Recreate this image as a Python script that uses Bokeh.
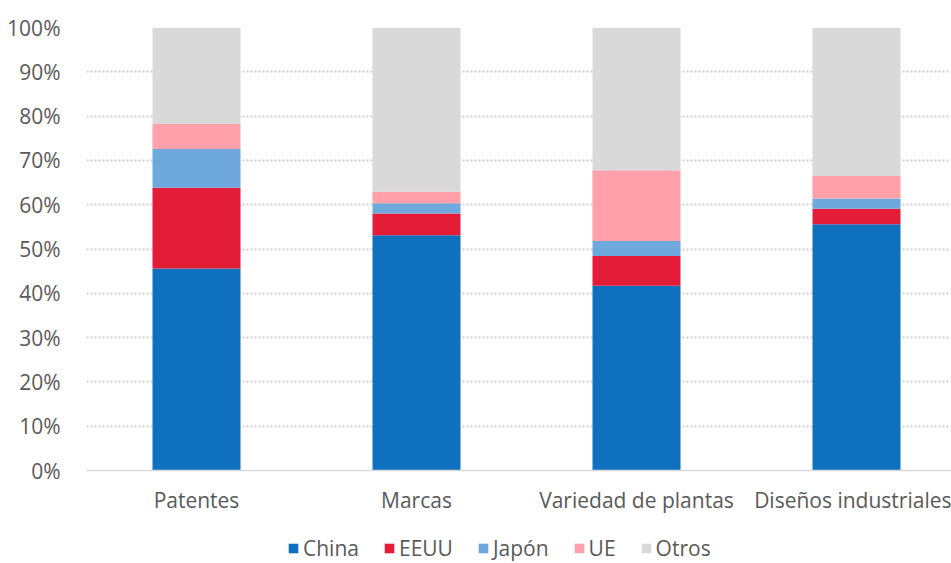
from bokeh.plotting import figure
from bokeh.layouts import column
from bokeh.models import ColumnDataSource, Range1d, FixedTicker, Legend, LegendItem
from bokeh.embed import file_html
from bokeh.resources import INLINE

categories = ["Patentes", "Marcas", "Variedad de plantas", "Diseños industriales"]
series = ["China", "EEUU", "Japón", "UE", "Otros"]
china = [45.6, 53.1, 41.7, 55.6]
eeuu = [18.2, 4.9, 6.7, 3.5]
japon = [8.8, 2.3, 3.4, 2.3]
ue = [5.6, 2.6, 16.0, 5.1]
otros = [21.8, 37.1, 32.2, 33.5]
colors = ["#0F70BE", "#E31D38", "#6FA8DC", "#FFA0AA", "#D9D9D9"]
yticks = [0, 10, 20, 30, 40, 50, 60, 70, 80, 90, 100]

xs = list(range(len(categories)))
source = ColumnDataSource(dict(x=xs, China=china, EEUU=eeuu, Japón=japon, UE=ue, Otros=otros))

FONT = "Open Sans"
FS = "21px"
p = figure(width=951, height=528, output_backend="svg", toolbar_location=None,
           x_range=Range1d(-0.5, -0.5 + 865 / 220), y_range=Range1d(0, 100),
           min_border_left=86, min_border_right=0, min_border_top=27, min_border_bottom=58)
p.outline_line_color = None

p.vbar_stack(series, x="x", width=0.4, source=source, color=colors, line_color=None)

p.xaxis.ticker = FixedTicker(ticks=xs)
p.xaxis.major_label_overrides = {i: c for i, c in enumerate(categories)}
p.yaxis.ticker = FixedTicker(ticks=yticks)
p.yaxis.major_label_overrides = {v: f"{v}%" for v in yticks}

for ax in (p.xaxis, p.yaxis):
    ax.major_tick_line_color = None
    ax.minor_tick_line_color = None
    ax.major_label_text_font = FONT
    ax.major_label_text_font_size = FS
    ax.major_label_text_color = "#595959"
p.yaxis.axis_line_color = None
p.yaxis.major_label_standoff = 20
p.xaxis.axis_line_color = "#D9D9D9"
p.xaxis.axis_line_width = 1.5
p.xaxis.major_label_standoff = 9

p.xgrid.grid_line_color = None
p.ygrid.grid_line_color = "#D0D0D0"
p.ygrid.grid_line_dash = "2 2"
p.ygrid.grid_line_width = 2

# Legend strip below the chart (its swatches come from bars kept outside its visible range)
p2 = figure(width=951, height=35, output_backend="svg", toolbar_location=None,
            x_range=Range1d(0, 1), y_range=Range1d(1000, 1001),
            min_border_left=0, min_border_right=0, min_border_top=0, min_border_bottom=0)
p2.axis.visible = False
p2.grid.visible = False
p2.outline_line_color = None
leg_renderers = p2.vbar_stack(series, x="x", width=0.4, source=source, color=colors, line_color=None)
legend = Legend(items=[LegendItem(label=s, renderers=[r]) for s, r in zip(series, leg_renderers)],
                orientation="horizontal", location=(201, 1), border_line_color=None,
                background_fill_alpha=0,
                label_text_font=FONT, label_text_font_size=FS, label_text_color="#595959",
                glyph_width=12, glyph_height=12, spacing=24, label_standoff=4,
                padding=0, margin=0)
p2.add_layout(legend, "center")

layout = column(p, p2, spacing=0)
open("out.html", "w").write(file_html(layout, INLINE))
